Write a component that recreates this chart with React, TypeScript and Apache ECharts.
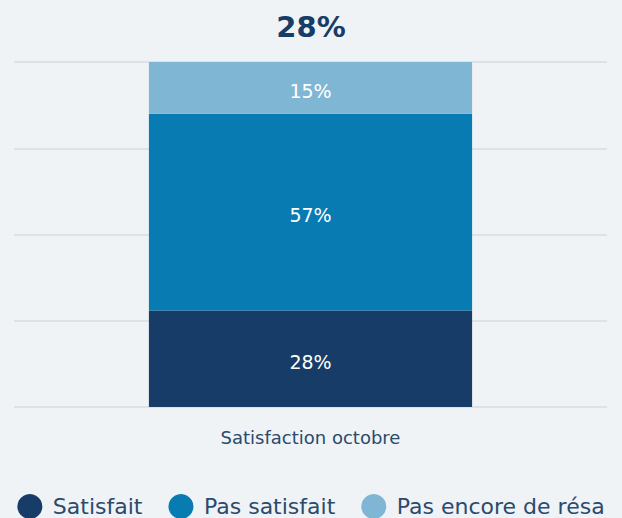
import React, { useEffect, useRef } from "react";
import * as echarts from "echarts";

const categories = ["Satisfaction octobre"];
const seriesNames = ["Satisfait", "Pas satisfait", "Pas encore de résa"];
const satisfait = [28];
const pasSatisfait = [57];
const pasEncore = [15];
const titleText = "28%";
const colors = ["#183c68", "#077bb2", "#7fb6d4"];
const font = "DejaVu Sans";

export default function App() {
  const ref = useRef<HTMLDivElement>(null);
  useEffect(() => {
    document.body.style.margin = "0";
    const chart = echarts.init(ref.current!, null, { renderer: "svg" });
    const values = [satisfait, pasSatisfait, pasEncore];
    chart.setOption({
      animation: false,
      backgroundColor: "#eff3f5",
      color: colors,
      textStyle: { fontFamily: font },
      title: {
        text: titleText,
        left: "center",
        top: 7,
        textStyle: { color: "#183c68", fontSize: 29, fontWeight: "bold", fontFamily: font },
      },
      legend: {
        bottom: -6,
        left: "center",
        icon: "circle",
        itemWidth: 36,
        itemHeight: 25,
        itemGap: 26,
        textStyle: { color: "#2a4a6e", fontSize: 22, fontFamily: font },
        data: seriesNames,
      },
      grid: { left: 14, right: 15, top: 62, bottom: 111 },
      xAxis: {
        type: "category",
        data: categories,
        axisLine: { show: false },
        axisTick: { show: false },
        axisLabel: { color: "#2a4a6e", fontSize: 18, margin: 21, fontFamily: font },
      },
      yAxis: {
        type: "value",
        min: 0,
        max: 100,
        interval: 25,
        axisLabel: { show: false },
        axisLine: { show: false },
        axisTick: { show: false },
        splitLine: { lineStyle: { color: "#d9dde3", width: 1.5 } },
      },
      series: seriesNames.map((name, i) => ({
        name,
        type: "bar",
        stack: "total",
        barWidth: "54.5%",
        data: values[i],
        label: {
          show: true,
          position: "inside",
          offset: [0, 3],
          color: "#ffffff",
          fontSize: 19,
          fontFamily: font,
          formatter: (p: any) => p.value + "%",
        },
      })),
    });
    return () => chart.dispose();
  }, []);
  return <div ref={ref} style={{ width: 622, height: 518 }} />;
}
